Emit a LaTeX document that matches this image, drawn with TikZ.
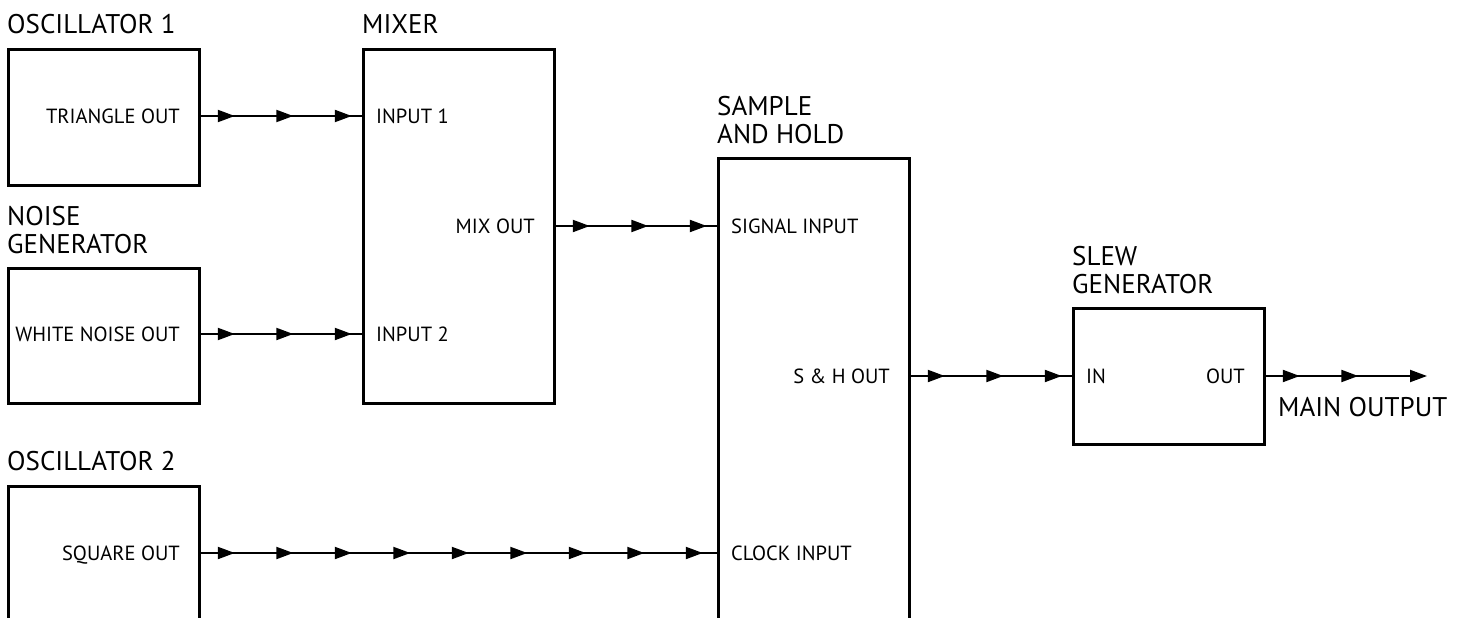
\documentclass[tikz,border=0pt]{standalone}
\usepackage{fontspec}
\setmainfont{PT Sans}
\usetikzlibrary{positioning,arrows.meta,decorations.markings}
\tikzset{
  module/.style={draw, line width=2.8bp, anchor=north west, minimum width=191bp, inner sep=0pt},
  title/.style={font=\fontsize{27bp}{28bp}\selectfont, align=left, inner sep=0pt, anchor=south west},
  port/.style={font=\fontsize{20.5bp}{24bp}\selectfont, inner sep=0pt, text depth=0pt},
  jacktip/.style={-{Triangle[length=17bp,width=12bp]}},
  cable/.style={line width=2bp, postaction=decorate, decoration={markings,
      mark=between positions 34bp and #1 step 58.5bp with {\arrow{Triangle[length=17bp,width=12bp]}}}},
  cable/.default=-4bp,
}

\begin{document}
\begin{tikzpicture}[x=1bp, y=-1bp]
  \useasboundingbox (0,0) rectangle (1466,618);

  % modules
  \node[module, minimum height=136bp] (osc1)  at (7,48)    {};
  \node[module, minimum height=135bp] (noise) at (7,267)   {};
  \node[module, minimum height=170bp] (osc2)  at (7,485)   {};
  \node[module, minimum height=354bp] (mixer) at (362,48)  {};
  \node[module, minimum height=490bp] (sh)    at (717,157) {};
  \node[module, minimum height=136bp] (slew)  at (1072,307) {};

  % module names
  \node[title, above=14bp of osc1.north west, anchor=south west]  (osc1t)  {OSCILLATOR 1};
  \node[title, above=13bp of noise.north west, anchor=south west] (noiset) {NOISE\\GENERATOR};
  \node[title, above=14bp of osc2.north west, anchor=south west]  (osc2t)  {OSCILLATOR 2};
  \node[title, above=14bp of mixer.north west, anchor=south west] (mixert) {MIXER};
  \node[title, above=13bp of sh.north west, anchor=south west]    (sht)    {SAMPLE\\AND HOLD};
  \node[title, above=13bp of slew.north west, anchor=south west]  (slewt)  {SLEW\\GENERATOR};

  % jacks
  \node[port, left]  (tri)  at (180,116)  {TRIANGLE OUT};
  \node[port, left]  (wno)  at (180,334)  {WHITE NOISE OUT};
  \node[port, left]  (sqo)  at (180,553)  {SQUARE OUT};
  \node[port, right] (in1)  at (376,116)  {INPUT 1};
  \node[port, right] (in2)  at (376,334)  {INPUT 2};
  \node[port, left]  (mixo) at (535,226)  {MIX OUT};
  \node[port, right] (sig)  at (731,226)  {SIGNAL INPUT};
  \node[port, right] (clk)  at (731,553)  {CLOCK INPUT};
  \node[port, left]  (sho)  at (890,376)  {S \& H OUT};
  \node[port, right] (slin) at (1086,376) {IN};
  \node[port, left]  (slout) at (1245,376) {OUT};
  \node[title, anchor=base west] (mainout) at (1278,416) {MAIN OUTPUT};

  % patch cables
  \draw[cable] (osc1.east |- tri) -- (in1 -| mixer.west);
  \draw[cable] (noise.east |- wno) -- (in2 -| mixer.west);
  \draw[cable] (mixer.east |- mixo) -- (sig -| sh.west);
  \draw[cable] (osc2.east |- sqo) -- (clk -| sh.west);
  \draw[cable] (sh.east |- sho) -- (slin -| slew.west);
  \coordinate (jack) at (1427,376);
  \draw[cable=-30bp, jacktip] (slew.east |- slout) -- (jack);
\end{tikzpicture}
\end{document}
